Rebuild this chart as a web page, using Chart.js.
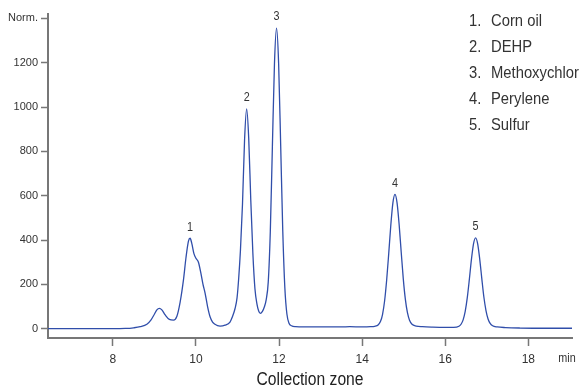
<!DOCTYPE html>
<html>
<head>
<meta charset="utf-8">
<script src="https://cdn.jsdelivr.net/npm/chart.js@4.4.1/dist/chart.umd.min.js"></script>
<style>
  html, body { margin: 0; padding: 0; background: #fff; }
</style>
</head>
<body>
<canvas id="myChart" width="582" height="389"></canvas>
<script>
// retention time (min) and normalised detector signal
const times = [
  6.44, 7.0, 7.5, 8.0, 8.3, 8.5, 8.66, 8.82, 8.92, 9.0, 9.06, 9.12, 9.18, 9.26, 9.36, 9.46,
  9.54, 9.62, 9.7, 9.76, 9.82, 9.86, 9.9, 9.95, 10.0, 10.06, 10.12, 10.17, 10.22, 10.28, 10.34,
  10.4, 10.46, 10.52, 10.58, 10.7, 10.82, 10.88, 10.94, 10.99, 11.03, 11.07, 11.12, 11.17, 11.22,
  11.27, 11.32, 11.37, 11.42, 11.47, 11.51, 11.55, 11.6, 11.65, 11.69, 11.74, 11.79, 11.84, 11.89,
  11.94, 11.99, 12.04, 12.09, 12.14, 12.19, 12.24, 12.3, 12.4, 12.6, 13.0, 13.5, 13.7, 14.0, 14.2,
  14.3, 14.39, 14.44, 14.49, 14.54, 14.59, 14.64, 14.69, 14.74, 14.79, 14.84, 14.89, 14.94, 14.99,
  15.04, 15.09, 15.14, 15.2, 15.3, 15.45, 15.7, 16.0, 16.2, 16.33, 16.38, 16.43, 16.48, 16.53,
  16.58, 16.63, 16.68, 16.73, 16.78, 16.83, 16.88, 16.93, 16.98, 17.03, 17.08, 17.14, 17.25,
  17.45, 17.8, 18.5, 19.05
];
const signal = [
  0, 0, 0, 0, 1, 4, 9, 20, 40, 65, 85, 92, 85, 62, 42, 39,
  55, 120, 220, 320, 395, 408, 385, 340, 318, 300, 250, 200, 161, 100, 54,
  30, 20, 14, 12, 16, 30, 55, 90, 140, 230, 350, 560, 850, 992,
  860, 580, 340, 180, 110, 80, 69, 78, 100, 130, 210, 440, 823, 1197,
  1356, 1197, 823, 440, 184, 65, 25, 13, 9, 8, 8, 8, 9, 8, 9,
  11, 18, 32, 64, 125, 220, 340, 468, 568, 606, 568, 470, 345, 225,
  132, 72, 38, 20, 12, 9, 7, 6, 6, 11, 20, 40, 78, 140,
  223, 313, 383, 410, 383, 313, 225, 142, 82, 44, 24, 13, 8,
  5, 3, 2, 2
];

const xTicks = [8, 10, 12, 14, 16, 18];
const yTicks = [0, 200, 400, 600, 800, 1000, 1200, 1400];

const peakTimes = [9.86, 11.22, 11.94, 14.79, 16.73];
const peakHeights = [408, 992, 1356, 606, 410];
const peakNames = ["Corn oil", "DEHP", "Methoxychlor", "Perylene", "Sulfur"];

const FONT = "'Liberation Sans', Arial, sans-serif";
const AXIS_GREY = "#777";

// condensed-looking text: squeeze horizontally around the anchor point
function narrowText(ctx, text, x, y, squeeze) {
  ctx.save();
  ctx.translate(x, y);
  ctx.scale(squeeze, 1);
  ctx.fillText(text, 0, 0);
  ctx.restore();
}

// numbers over the peaks, compound list, unit and axis title
const annotations = {
  id: "annotations",
  afterDatasetsDraw(chart) {
    const ctx = chart.ctx;
    const xs = chart.scales.x;
    const ys = chart.scales.y;
    ctx.save();
    ctx.fillStyle = "#333";
    ctx.textAlign = "center";
    ctx.textBaseline = "middle";
    ctx.font = "12px " + FONT;
    for (let i = 0; i < peakTimes.length; i++) {
      const px = xs.getPixelForValue(peakTimes[i]);
      const py = ys.getPixelForValue(peakHeights[i]);
      narrowText(ctx, String(i + 1), px, py - 11, 0.9);
    }

    // unit at the end of the time axis
    narrowText(ctx, "min", 567, 359, 0.9);

    ctx.font = "17px " + FONT;
    ctx.textAlign = "left";
    for (let i = 0; i < peakNames.length; i++) {
      const y = 21 + i * 26.2;
      narrowText(ctx, (i + 1) + ".", 469, y, 0.87);
      narrowText(ctx, peakNames[i], 491, y, 0.87);
    }

    ctx.fillStyle = "#222";
    ctx.textAlign = "center";
    ctx.font = "18px " + FONT;
    narrowText(ctx, "Collection zone", (chart.chartArea.left + chart.chartArea.right) / 2, 380, 0.87);
    ctx.restore();
  },
};

const chartData = {
  datasets: [
    {
      label: "signal",
      data: times.map((t, i) => ({ x: t, y: signal[i] })),
      borderColor: "rgb(48, 78, 170)",
      borderWidth: 1.3,
      pointRadius: 0,
      fill: false,
      cubicInterpolationMode: "monotone",
    },
  ],
};

new Chart(document.getElementById("myChart").getContext("2d"), {
  type: "line",
  data: chartData,
  plugins: [annotations],
  options: {
    responsive: false,
    animation: false,
    layout: { padding: { top: 14, right: 10, left: 0, bottom: 0 } },
    plugins: { legend: { display: false }, tooltip: { enabled: false } },
    scales: {
      x: {
        type: "linear",
        min: 6.44,
        max: 19.05,
        afterBuildTicks: (s) => { s.ticks = xTicks.map((v) => ({ value: v })); },
        afterFit: (s) => { s.height = 51; },
        ticks: {
          autoSkip: false,
          maxRotation: 0,
          padding: 6,
          color: "#333",
          font: { family: FONT, size: 12 },
        },
        grid: {
          drawOnChartArea: false,
          tickLength: 8,
          tickWidth: 1.5,
          tickColor: AXIS_GREY,
        },
        border: { color: AXIS_GREY, width: 2 },
      },
      y: {
        min: -42,
        max: 1420,
        afterBuildTicks: (s) => { s.ticks = yTicks.map((v) => ({ value: v })); },
        afterFit: (s) => { s.width = 48; },
        ticks: {
          autoSkip: false,
          padding: 3,
          color: "#333",
          font: { family: FONT, size: 11 },
          callback: (v) => (v === 1400 ? "Norm." : v),
        },
        grid: {
          drawOnChartArea: false,
          tickLength: 7,
          tickWidth: 1.5,
          tickColor: AXIS_GREY,
        },
        border: { color: AXIS_GREY, width: 2 },
      },
    },
  },
});
</script>
</body>
</html>
